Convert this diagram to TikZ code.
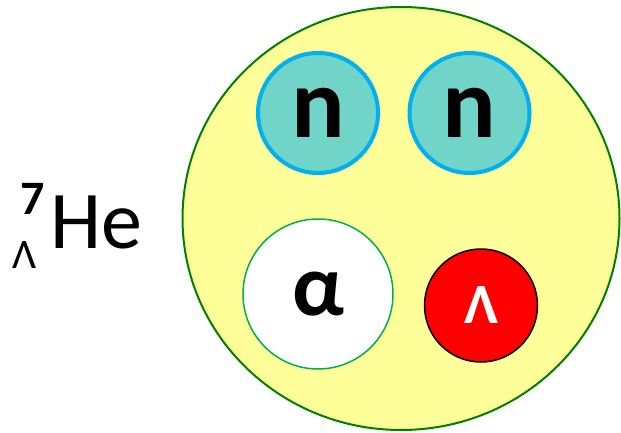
\documentclass[tikz,border=0pt]{standalone}
\usepackage{fontspec}
\setmainfont{Carlito}
\definecolor{shell}{HTML}{FFFF99}
\definecolor{shellline}{HTML}{008000}
\definecolor{nfill}{HTML}{70D5C8}
\definecolor{nline}{HTML}{00B0F0}
\definecolor{aline}{HTML}{00B050}
\begin{document}
\begin{tikzpicture}[x=1pt,y=-1pt,
  neutron/.style={circle,fill=nfill,draw=nline,line width=4pt,minimum size=120pt,inner sep=0pt,font=\fontsize{100}{100}\selectfont\bfseries},
  alphab/.style={circle,fill=white,draw=aline,line width=1.5pt,minimum size=150pt,inner sep=0pt,font=\fontsize{88}{88}\selectfont\bfseries},
  lambdab/.style={circle,fill=red,draw=black,line width=1.5pt,minimum size=113pt,inner sep=0pt,text=white,font=\fontsize{57}{57}\selectfont\bfseries}]
\useasboundingbox (0,0) rectangle (621,433);
\draw[fill=shell,draw=shellline,line width=2pt] (401,218.5) ellipse [x radius=218.5, y radius=211.5];
\node[neutron] (n1) at (318,113) {n};
\node[neutron] (n2) at (469.5,113) {n};
\node[alphab] (a) at (318,294) {α};
\node[lambdab] (l) at (481,305.5) {Λ};
\node[anchor=base west,inner sep=0pt,font=\fontsize{82}{82}\selectfont] (he) at (50,248) {He};
\node[anchor=base west,inner sep=0pt,font=\fontsize{48}{48}\selectfont\bfseries] (mass) at (20,214) {7};
\node[anchor=base west,inner sep=0pt,font=\fontsize{42}{42}\selectfont] (sub) at (12,268) {Λ};
\end{tikzpicture}
\end{document}
